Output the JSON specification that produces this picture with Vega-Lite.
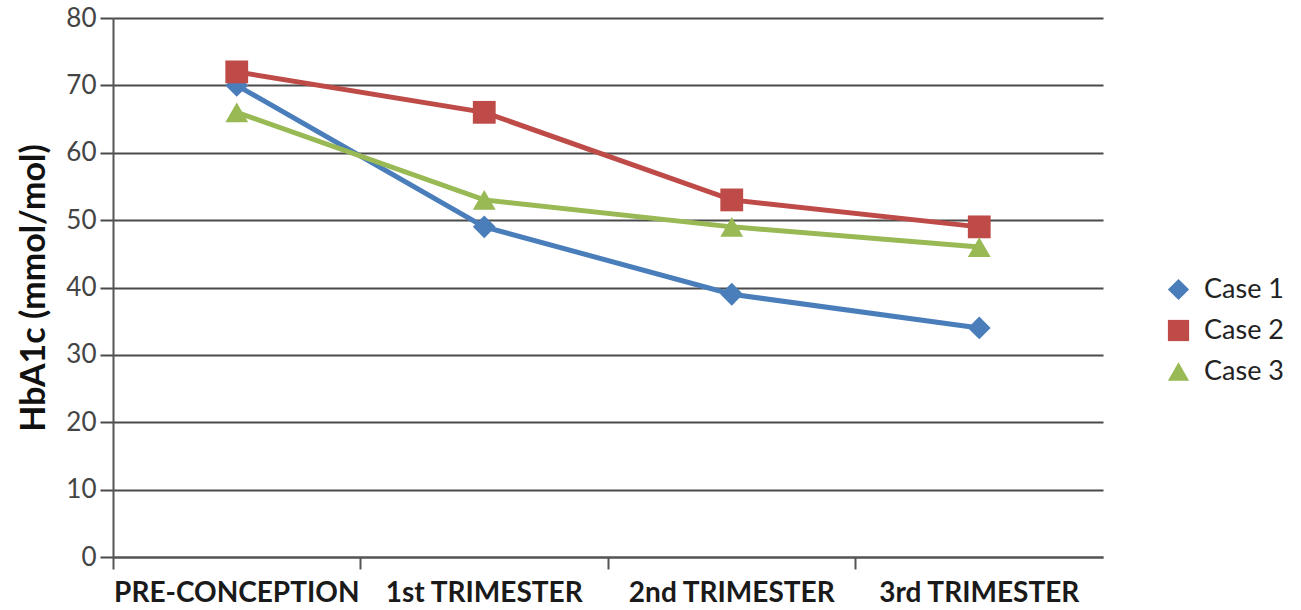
{
  "$schema": "https://vega.github.io/schema/vega-lite/v6.json",
  "autosize": "none",
  "width": 990,
  "height": 539,
  "padding": {"left": 113, "top": 18, "right": 198, "bottom": 53},
  "background": "white",
  "config": {
    "view": {"stroke": null},
    "font": "Lato"
  },
  "data": {
    "values": [
      {"stage": "PRE-CONCEPTION", "series": "Case 1", "hba1c": 70},
      {"stage": "1st TRIMESTER", "series": "Case 1", "hba1c": 49},
      {"stage": "2nd TRIMESTER", "series": "Case 1", "hba1c": 39},
      {"stage": "3rd TRIMESTER", "series": "Case 1", "hba1c": 34},
      {"stage": "PRE-CONCEPTION", "series": "Case 2", "hba1c": 72},
      {"stage": "1st TRIMESTER", "series": "Case 2", "hba1c": 66},
      {"stage": "2nd TRIMESTER", "series": "Case 2", "hba1c": 53},
      {"stage": "3rd TRIMESTER", "series": "Case 2", "hba1c": 49},
      {"stage": "PRE-CONCEPTION", "series": "Case 3", "hba1c": 66},
      {"stage": "1st TRIMESTER", "series": "Case 3", "hba1c": 53},
      {"stage": "2nd TRIMESTER", "series": "Case 3", "hba1c": 49},
      {"stage": "3rd TRIMESTER", "series": "Case 3", "hba1c": 46}
    ]
  },
  "encoding": {
    "x": {
      "field": "stage",
      "type": "nominal",
      "sort": null,
      "bandPosition": 0.5,
      "scale": {"type": "band", "paddingInner": 0, "paddingOuter": 0},
      "axis": {
        "title": null,
        "labelAngle": 0,
        "labelFontSize": 28,
        "labelFontWeight": "bold",
        "labelColor": "#1a1a1a",
        "labelLimit": 0,
        "labelPadding": 10,
        "bandPosition": 0,
        "tickSize": 12,
        "tickWidth": 2,
        "tickColor": "#555",
        "domainColor": "#555",
        "domainWidth": 2,
        "grid": false
      }
    },
    "y": {
      "field": "hba1c",
      "type": "quantitative",
      "scale": {"domain": [0, 80]},
      "axis": {
        "title": "HbA1c (mmol/mol)",
        "titleFontSize": 34,
        "titleFontWeight": "bold",
        "titleColor": "#111",
        "titlePadding": 14,
        "values": [0, 10, 20, 30, 40, 50, 60, 70, 80],
        "labelFontSize": 26,
        "labelColor": "#444",
        "labelPadding": 4,
        "tickSize": 13,
        "tickWidth": 2,
        "tickColor": "#4a4a4a",
        "domainColor": "#555",
        "domainWidth": 2,
        "grid": true,
        "gridColor": "#4a4a4a",
        "gridWidth": 2
      }
    }
  },
  "layer": [
    {
      "mark": {"type": "line", "strokeWidth": 5},
      "encoding": {
        "stroke": {
          "field": "series",
          "type": "nominal",
          "scale": {"range": ["#4A7EBB", "#BE4B48", "#98B954"]},
          "legend": null
        }
      }
    },
    {
      "mark": {"type": "point", "filled": true, "opacity": 1, "size": 520},
      "encoding": {
        "color": {
          "field": "series",
          "type": "nominal",
          "scale": {"range": ["#4A7EBB", "#BE4B48", "#98B954"]},
          "legend": {
            "title": null,
            "orient": "none",
            "legendX": 1052,
            "legendY": 258,
            "labelFontSize": 27,
            "labelColor": "#222",
            "rowPadding": 12,
            "symbolSize": 450,
            "symbolOpacity": 1,
            "labelOffset": 12
          }
        },
        "shape": {
          "field": "series",
          "type": "nominal",
          "scale": {"range": ["diamond", "square", "triangle-up"]},
          "legend": {
            "title": null,
            "orient": "none",
            "legendX": 1052,
            "legendY": 258,
            "labelFontSize": 27,
            "labelColor": "#222",
            "rowPadding": 12,
            "symbolSize": 450,
            "symbolOpacity": 1,
            "labelOffset": 12
          }
        }
      }
    }
  ]
}
